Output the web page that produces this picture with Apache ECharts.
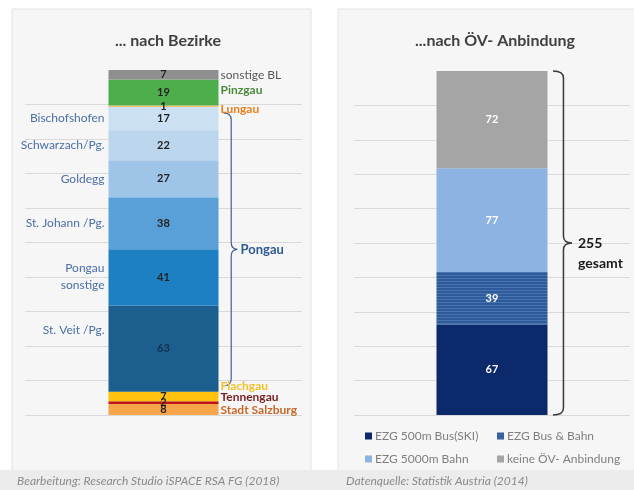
<!DOCTYPE html>
<html><head><meta charset="utf-8">
<script src="https://cdn.jsdelivr.net/npm/echarts@6/dist/echarts.min.js"></script>
<style>html,body{margin:0;padding:0;background:#fff}#c{width:634px;height:490px}</style>
</head><body><div id="c"></div>
<script>
// ---------- data ----------
const leftNames = ['Stadt Salzburg','Tennengau','Flachgau','St. Veit /Pg.','Pongau\nsonstige','St. Johann /Pg.','Goldegg','Schwarzach/Pg.','Bischofshofen','Lungau','Pinzgau','sonstige BL'];
const leftValues = [8, 2, 7, 63, 41, 38, 27, 22, 17, 1, 19, 7];
const pongauRange = [3, 8]; // index range (inclusive) of the Pongau segments
const pongauLabel = 'Pongau';

const rightNames = ['EZG 500m Bus(SKI)','EZG Bus & Bahn','EZG 5000m Bahn','keine ÖV- Anbindung'];
const rightValues = [67, 39, 77, 72];
const totalLabel = '255\ngesamt';

const titles = ['... nach Bezirke', '...nach ÖV- Anbindung'];
const footers = ['Bearbeitung: Research Studio iSPACE RSA FG (2018)', 'Datenquelle: Statistik Austria (2014)'];

// ---------- styles ----------
const leftColors = ['#f7a54a','#c0141b','#ffc20e','#1c5f8e','#1d80c3','#5aa0d8','#9ec5e8','#bcd6ee','#cbe0f3','#f6c46b','#4fae4c','#8f8f8f'];
const leftSide   = ['right','right','right','left','left','left','left','left','left','right','right','right'];
const leftNameColor = ['#c8672a','#7a1f22','#f2c12e','#4a6ea8','#4a6ea8','#4a6ea8','#4a6ea8','#4a6ea8','#4a6ea8','#f07c1c','#4b8a3c','#595959'];
const leftNameWeight = ['bold','bold','bold','normal','normal','normal','normal','normal','normal','bold','bold','normal'];
const leftNameOffset = [[0,1],[0,-6],[0,-10],[0,-18],[0,-1],[0,0],[0,0],[0,0],[0,0],[0,3],[0,-2],[0,0]];
const leftValueColor = ['#222','#222','#222','#14304f','#222','#222','#222','#222','#222','#222','#222','#222'];

const stripe = document.createElement('canvas');
stripe.width = 4; stripe.height = 3;
(function(){const g = stripe.getContext('2d'); g.fillStyle = '#2d5a9a'; g.fillRect(0,0,4,3); g.fillStyle = '#4b74ae'; g.fillRect(0,2,4,1);})();
const rightColors = ['#0c2a6b', {image: stripe, repeat: 'repeat'}, '#8db3e2', '#a5a5a5'];
const rightLegendColors = ['#0c2a6b','#2d5a9a','#8db3e2','#a5a5a5'];

const FONT = 'Lato, "Open Sans", sans-serif';

const sum = a => a.reduce((s, v) => s + v, 0);
const leftTotal = sum(leftValues), rightTotal = sum(rightValues);
const pct = (v, t) => v / t * 100;

// ---------- series ----------
const series = [];
leftValues.forEach((v, i) => {
  series.push({
    type: 'bar', name: leftNames[i], stack: 'L', xAxisIndex: 0, yAxisIndex: 0, barWidth: 110, clip: false,
    itemStyle: {color: leftColors[i]},
    data: [{value: pct(v, leftTotal), raw: v}],
    label: {show: true, position: 'inside', formatter: p => p.data.raw, color: leftValueColor[i], fontWeight: 'bold', fontSize: 11, fontFamily: FONT},
    emphasis: {disabled: true}, silent: true
  });
});
leftValues.forEach((v, i) => {
  series.push({
    type: 'bar', name: leftNames[i] + '_n', stack: 'LN', xAxisIndex: 0, yAxisIndex: 0, barWidth: 110, barGap: '-100%', clip: false,
    itemStyle: {color: 'rgba(0,0,0,0)'},
    data: [{value: pct(v, leftTotal), raw: v}],
    label: {show: true, position: leftSide[i], distance: leftSide[i] === 'left' ? 4 : 2, offset: leftNameOffset[i],
      formatter: leftNames[i], color: leftNameColor[i], fontWeight: leftNameWeight[i], fontSize: 12, fontFamily: FONT,
      align: leftSide[i] === 'left' ? 'right' : 'left', lineHeight: 17},
    emphasis: {disabled: true}, silent: true
  });
});
rightValues.forEach((v, i) => {
  series.push({
    type: 'bar', name: rightNames[i], stack: 'R', xAxisIndex: 1, yAxisIndex: 1, barWidth: 111, clip: false,
    itemStyle: {color: rightColors[i]},
    data: [{value: pct(v, rightTotal), raw: v}],
    label: {show: true, position: 'inside', formatter: p => p.data.raw, color: '#fff', fontWeight: 'bold', fontSize: 11, fontFamily: FONT},
    emphasis: {disabled: true}, silent: true
  });
});

function brace(opts) {
  return function (params, api) {
    const pTop = api.coord([0, api.value(2)]);
    const pBot = api.coord([0, api.value(1)]);
    const x0 = pTop[0] + opts.offset;
    const y1 = pTop[1] + opts.inset, y2 = pBot[1] - opts.inset;
    const ym = (y1 + y2) / 2, w = opts.width, xm = x0 + w * 0.55, xt = x0 + w, r = 7;
    const d = `M${x0} ${y1} Q${xm} ${y1} ${xm} ${y1 + r} L${xm} ${ym - r} Q${xm} ${ym} ${xt} ${ym} Q${xm} ${ym} ${xm} ${ym + r} L${xm} ${y2 - r} Q${xm} ${y2} ${x0} ${y2}`;
    return {type: 'group', children: [
      {type: 'path', shape: {pathData: d}, style: {fill: 'none', stroke: opts.color, lineWidth: opts.lineWidth}},
      {type: 'text', style: {text: opts.text, x: xt + opts.textGap, y: ym - opts.lineHeight / 2, verticalAlign: 'top', fill: opts.textColor,
        fontSize: opts.fontSize, fontWeight: 'bold', fontFamily: FONT, lineHeight: opts.lineHeight}}
    ]};
  };
}
const cum = (arr, n) => sum(arr.slice(0, n));
series.push({
  type: 'custom', xAxisIndex: 0, yAxisIndex: 0, clip: false, silent: true,
  encode: {x: 0, y: [1, 2]},
  data: [[0, pct(cum(leftValues, pongauRange[0]), leftTotal), pct(cum(leftValues, pongauRange[1] + 1), leftTotal)]],
  renderItem: brace({offset: 60, inset: 6, width: 14, color: '#3f5f8f', lineWidth: 1.2, text: pongauLabel, textGap: 3, textColor: '#2e5a94', fontSize: 13, lineHeight: 16})
});
series.push({
  type: 'custom', xAxisIndex: 1, yAxisIndex: 1, clip: false, silent: true,
  encode: {x: 0, y: [1, 2]},
  data: [[0, 0, 100]],
  renderItem: brace({offset: 61, inset: 0, width: 19, color: '#3a3a3a', lineWidth: 1.5, text: totalLabel, textGap: 6, textColor: '#1a1a1a', fontSize: 14, lineHeight: 20})
});

const yAx = {type: 'value', min: 0, max: 100, interval: 10,
  axisLabel: {show: false}, axisLine: {show: false}, axisTick: {show: false},
  splitLine: {show: true, showMaxLine: false, lineStyle: {color: '#d9d9d9', width: 1}}};
const xAx = {type: 'category', data: [''], axisLabel: {show: false}, axisLine: {show: false}, axisTick: {show: false}, splitLine: {show: false}};

const legendPos = [[360, 425], [492, 425], [360, 448], [492, 448]];
const legends = rightNames.map((n, i) => ({
  data: [n], left: legendPos[i][0], top: legendPos[i][1], icon: 'rect', itemWidth: 7, itemHeight: 7, itemGap: 4,
  textStyle: {color: '#7f7f7f', fontSize: 12, fontFamily: FONT, padding: [0, 0, 0, -2]}, selectedMode: false
}));

const option = {
  animation: false,
  color: rightLegendColors,
  graphic: [
    {type: 'rect', shape: {x: 12, y: 9, width: 299, height: 462}, style: {fill: '#f6f6f6', stroke: '#e3e3e3', lineWidth: 1}, z: -10, silent: true},
    {type: 'rect', shape: {x: 338, y: 9, width: 300, height: 462}, style: {fill: '#f6f6f6', stroke: '#e3e3e3', lineWidth: 1}, z: -10, silent: true},
    {type: 'rect', shape: {x: 0, y: 470, width: 634, height: 20}, style: {fill: '#ececec'}, z: -9, silent: true},
    {type: 'text', style: {text: footers[0], x: 17, y: 481, verticalAlign: 'middle', fill: '#8a8a8a', fontSize: 12, fontStyle: 'italic', fontFamily: FONT}, silent: true},
    {type: 'text', style: {text: footers[1], x: 346, y: 481, verticalAlign: 'middle', fill: '#8a8a8a', fontSize: 12, fontStyle: 'italic', fontFamily: FONT}, silent: true}
  ],
  title: [
    {text: titles[0], left: 163, top: 28, textAlign: 'center', textStyle: {fontSize: 16, fontWeight: 'bold', color: '#404040', fontFamily: FONT}},
    {text: titles[1], left: 490, top: 28, textAlign: 'center', textStyle: {fontSize: 16, fontWeight: 'bold', color: '#404040', fontFamily: FONT}}
  ],
  legend: legends,
  grid: [
    {left: 25, right: 332, top: 70, bottom: 75},
    {left: 354, right: 4, top: 71, bottom: 75}
  ],
  xAxis: [Object.assign({gridIndex: 0}, xAx), Object.assign({gridIndex: 1}, xAx)],
  yAxis: [Object.assign({gridIndex: 0}, yAx), Object.assign({gridIndex: 1}, yAx)],
  series: series
};
const chart = echarts.init(document.getElementById('c'), null, {renderer: 'canvas'});
chart.setOption(option);
</script></body></html>
